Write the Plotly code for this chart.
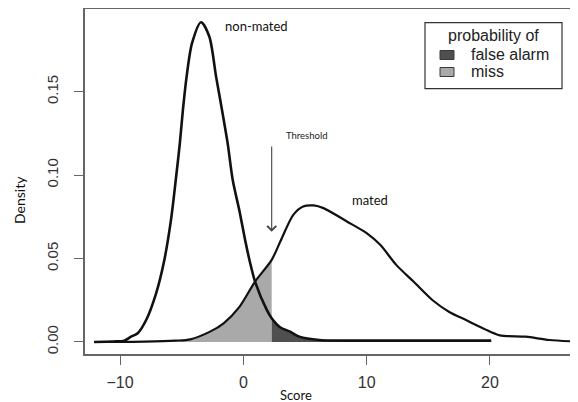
import plotly.graph_objects as go

# ---- data ----
score_ticks = [-10, 0, 10, 20]
score_labels = ["\u221210", "0", "10", "20"]
density_ticks = [0.0, 0.05, 0.10, 0.15]
density_labels = ["0.00", "0.05", "0.10", "0.15"]

mated_x = [-12.1, -8.0, -5.5, -4.3, -2.7, -1.6, -0.3, 0.95, 2.3, 3.0, 4.05, 4.85,
           5.7, 6.5, 8.4, 10.0, 11.1, 12.4, 13.8, 15.35, 16.7, 18.1, 19.5, 20.8,
           22.9, 24.8, 27.2]
mated_y = [0.0, 0.0002, 0.0008, 0.0016, 0.0062, 0.0112, 0.0212, 0.0362, 0.0492,
           0.0602, 0.0762, 0.0812, 0.0818, 0.0802, 0.0722, 0.0652, 0.0582, 0.0462,
           0.0362, 0.025, 0.018, 0.013, 0.008, 0.004, 0.0032, 0.0012, 0.0002]

nonmated_x = [-12.1, -10.5, -9.65, -9.1, -8.57, -7.89, -7.08, -6.41, -5.87, -5.45,
              -5.15, -4.9, -4.6, -4.16, -3.43, -2.76, -2.21, -1.73, -1.27, -0.86,
              -0.3, 0.14, 0.5, 0.95, 1.9, 2.3, 2.98, 3.79, 4.54, 6.16, 10.0, 20.1]
nonmated_y = [0.0, 0.0003, 0.0008, 0.0032, 0.0052, 0.013, 0.029, 0.049, 0.073, 0.099,
              0.119, 0.139, 0.159, 0.179, 0.1916, 0.183, 0.159, 0.139, 0.119, 0.097,
              0.078, 0.0612, 0.049, 0.0362, 0.0192, 0.0142, 0.0088, 0.0062, 0.0032,
              0.0012, 0.0008, 0.0008]

threshold = 2.3
arrow_top, arrow_bottom = 0.118, 0.066

legend_title = "probability of"
legend_names = ["false alarm", "miss"]
legend_colors = ["#4f4f4f", "#a9a9a9"]

# ---- layout geometry (screen pixels); page body has an 8px margin ----
OFF = 8
W, H = 578 - OFF, 402 - OFF
L, R, T, B = 85, 578, 9, 354   # plot area in screen pixels


def px(x):
    return (x - L) / (R - L)


def py(y):
    return (B - y) / (B - T)


fig = go.Figure()

# shaded areas
miss_x = [x for x in mated_x if x <= threshold]
miss_y = [y for x, y in zip(mated_x, mated_y) if x <= threshold]
fa_x = [x for x in nonmated_x if x >= threshold]
fa_y = [y for x, y in zip(nonmated_x, nonmated_y) if x >= threshold]

fig.add_trace(go.Scatter(x=miss_x, y=miss_y, mode="lines", fill="tozeroy",
                         fillcolor=legend_colors[1], line=dict(width=0, shape="spline"),
                         name=legend_names[1], showlegend=False, hoverinfo="skip"))
fig.add_trace(go.Scatter(x=fa_x, y=fa_y, mode="lines", fill="tozeroy",
                         fillcolor=legend_colors[0], line=dict(width=0, shape="spline"),
                         name=legend_names[0], showlegend=False, hoverinfo="skip"))

# density curves
fig.add_trace(go.Scatter(x=nonmated_x, y=nonmated_y, mode="lines",
                         line=dict(color="#111111", width=2.6, shape="spline", smoothing=0.8),
                         name="non-mated", showlegend=False))
fig.add_trace(go.Scatter(x=mated_x, y=mated_y, mode="lines",
                         line=dict(color="#111111", width=2.2, shape="spline", smoothing=0.8),
                         name="mated", showlegend=False))

axis_col = "#666666"
tick_font = dict(family="Liberation Sans, Arial, sans-serif", size=16, color="#333333")

fig.update_xaxes(range=[-12.84, 27.14], tickvals=score_ticks, ticktext=score_labels,
                 showgrid=False, zeroline=False, ticks="outside", ticklen=9,
                 tickwidth=1.4, tickcolor=axis_col, showline=True, linecolor=axis_col,
                 linewidth=1.5, mirror=True, tickfont=tick_font, ticklabelstandoff=4,
                 automargin=False)
fig.update_yaxes(range=[-0.0072, 0.1995], tickvals=density_ticks, ticktext=density_labels,
                 showgrid=False, zeroline=False, ticks="outside", ticklen=9,
                 tickwidth=1.4, tickcolor=axis_col, showline=True, linecolor=axis_col,
                 linewidth=1.5, mirror=False, tickangle=-90,
                 tickfont=dict(family="Liberation Sans, Arial, sans-serif", size=15,
                               color="#333333"), ticklabelstandoff=10, automargin=False)

label_font = "Lato, Open Sans, sans-serif"


def note(x, y, text, size, family=label_font, color="#111111", xanchor="center", angle=0):
    return dict(x=px(x), y=py(y), xref="paper", yref="paper", text=text, showarrow=False,
                xanchor=xanchor, yanchor="middle", textangle=angle,
                font=dict(family=family, size=size, color=color))


annotations = [
    note(296, 395, "Score", 13),
    note(19, 200, "Density", 14, angle=-90),
    note(256, 26, "non-mated", 13),
    note(370, 200, "mated", 13),
    note(306, 136, "Threshold", 9.5, color="#222222"),
    # threshold arrow
    dict(x=threshold, y=arrow_bottom, ax=threshold, ay=arrow_top, xref="x", yref="y",
         axref="x", ayref="y", text="", showarrow=True, arrowhead=4, arrowsize=1.6,
         arrowwidth=1.1, arrowcolor="#444444"),
    # legend title
    note(493, 35, legend_title, 16, family="Liberation Sans, Arial, sans-serif",
         color="#222222"),
]
shapes = [
    dict(type="rect", xref="paper", yref="paper", x0=px(425), x1=px(562), y0=py(22.7),
         y1=py(88.7), line=dict(color="#333333", width=1.2), fillcolor="white"),
]
for i, (name, col) in enumerate(zip(legend_names, legend_colors)):
    cy = 55 + 17 * i
    annotations.append(note(469, cy, name, 16, family="Liberation Sans, Arial, sans-serif",
                            color="#222222", xanchor="left"))
    shapes.append(dict(type="rect", xref="paper", yref="paper", x0=px(440), x1=px(454),
                       y0=py(cy + 4.5), y1=py(cy - 4.5),
                       line=dict(color="#3a3a3a", width=1), fillcolor=col))

fig.update_layout(width=W, height=H,
                  margin=dict(l=L - OFF, r=578 - R, t=T - OFF, b=402 - B),
                  paper_bgcolor="white", plot_bgcolor="white", showlegend=False,
                  annotations=annotations, shapes=shapes)

fig.write_html("out.html")
